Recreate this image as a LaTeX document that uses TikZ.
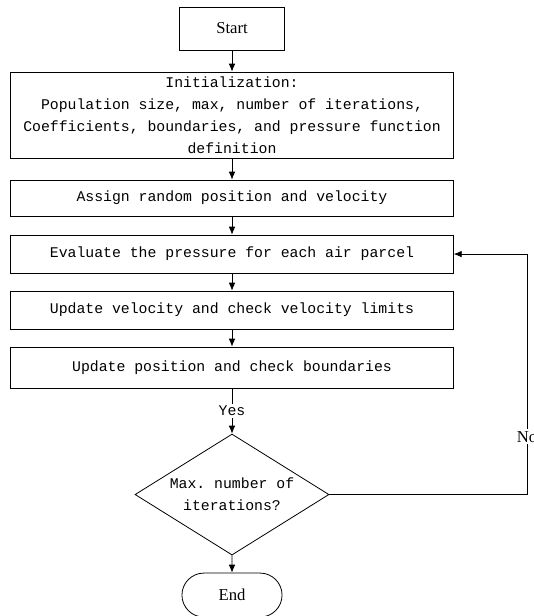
\documentclass[tikz,border=0pt]{standalone}
\usepackage{fontspec}
\setmainfont{Liberation Serif}
\setmonofont{Liberation Mono}
\usetikzlibrary{shapes.geometric,shapes.misc,arrows.meta}

\tikzset{
	stepbox/.style={draw, rectangle, minimum width=332pt, inner sep=2pt, align=center, font=\ttfamily\fontsize{11.1pt}{16.5pt}\selectfont},
	termbox/.style={draw, minimum width=78.75pt, minimum height=32.25pt, font=\fontsize{12.5pt}{15pt}\selectfont},
	decbox/.style={draw, diamond, aspect=1.6, inner sep=0pt, minimum width=145.5pt, minimum height=90.75pt, align=center, font=\ttfamily\fontsize{11.1pt}{16.5pt}\selectfont},
	lbl/.style={fill=white, inner sep=1.5pt}
}

\begin{document}
\begin{tikzpicture}[node distance=42pt, >={Latex[length=6pt,width=5pt]}, line width=0.6pt]
		\useasboundingbox (0,0) rectangle (400.5pt,-462pt);
		\node (start) [termbox] at (174pt,-21.4pt) {Start};
		\node (init) [stepbox, minimum height=64.5pt, below of=start, node distance=64.9pt] {Initialization:\\Population size, max, number of iterations,\\Coefficients, boundaries, and pressure function\\definition};
		\node (assign) [stepbox, minimum height=27pt, below of=init, node distance=62.25pt] {Assign random position and velocity};
		\node (eval) [stepbox, minimum height=28.5pt, below of=assign] {Evaluate the pressure for each air parcel};
		\node (updvel) [stepbox, minimum height=28.5pt, below of=eval] {Update velocity and check velocity limits};
		\node (updpos) [stepbox, minimum height=30.75pt, below of=updvel, node distance=43.1pt] {Update position and check boundaries};
		\node (maxit) [decbox, below of=updpos, node distance=95.25pt] {Max. number of\\iterations?};
		\node (stop) [termbox, rounded rectangle, minimum width=81.75pt, minimum height=33pt, below of=maxit, node distance=75.4pt] {End};
		\coordinate (back) at (395.25pt,0);
		
		\draw[->] (start) -- (init);
		\draw[->] (init) -- (assign);
		\draw[->] (assign) -- (eval);
		\draw[->] (eval) -- (updvel);
		\draw[->] (updvel) -- (updpos);
		\draw[->] (updpos) -- node[lbl, font=\ttfamily\fontsize{11.1pt}{13pt}\selectfont] {Yes} (maxit);
		\draw[->] (maxit) -- (stop);
		\draw[->] (maxit.east) -- (maxit.east -| back) -- node[lbl, pos=0.24, font=\fontsize{12.5pt}{15pt}\selectfont] {No} (eval.east -| back) -- (eval.east);
	\end{tikzpicture}
\end{document}
